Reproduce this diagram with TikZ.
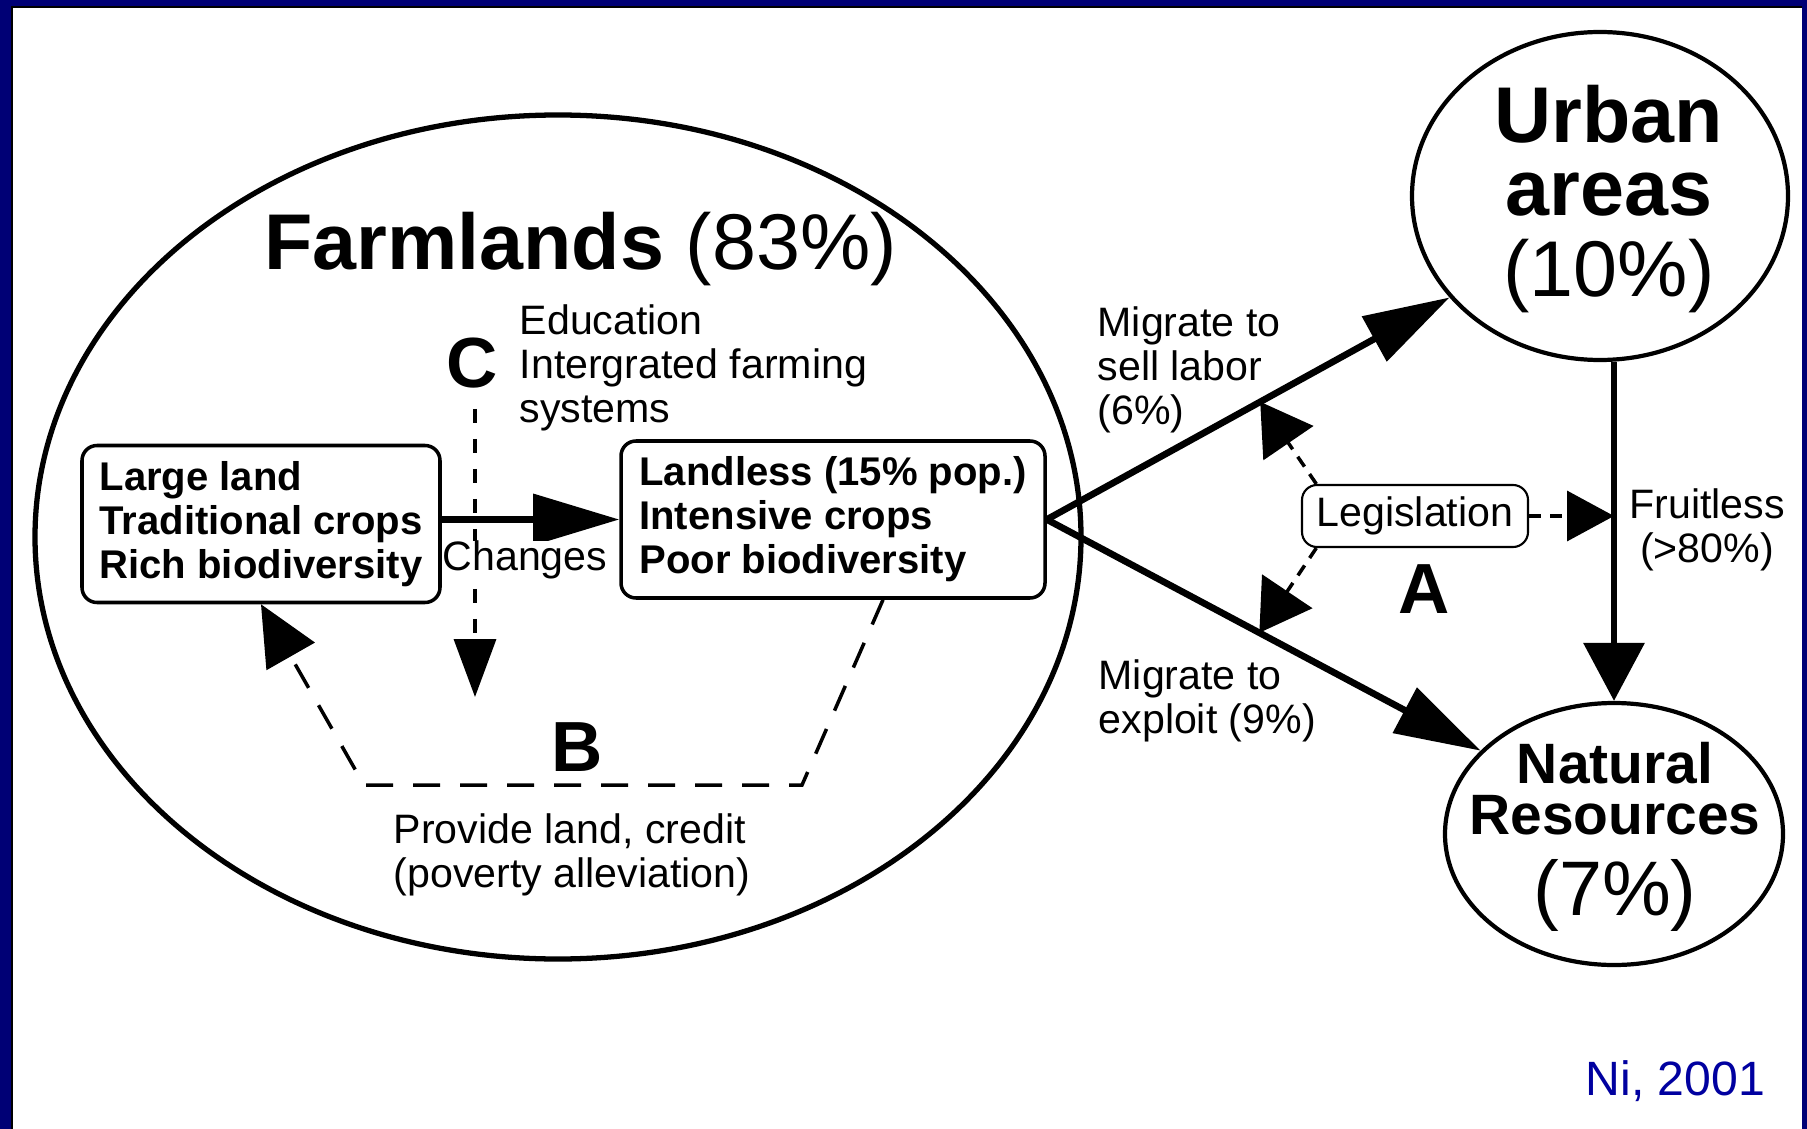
\documentclass[tikz,border=0pt]{standalone}
\usepackage{fontspec}
\setmainfont{Liberation Sans}
\usepackage{tikz}
\usetikzlibrary{positioning,calc,shapes,shapes.geometric,arrows.meta}
\definecolor{frameblue}{RGB}{0,0,117}
\definecolor{citeblue}{RGB}{0,0,160}

\begin{document}
\begin{tikzpicture}[
	landbox/.style={draw, line width=1pt, rounded corners=1.5mm, align=left, inner sep=0pt, minimum height=1.57cm, font=\fontsize{11.4}{12.5}\selectfont\bfseries},
	lbl/.style={inner sep=0pt, align=left, font=\fontsize{11.7}{12.5}\selectfont},
	letter/.style={inner sep=0pt, font=\fontsize{20.2}{20}\selectfont\bfseries},
	flow/.style={line width=1.9pt, -{Triangle[length=8.6mm, width=5mm]}},
	policy/.style={line width=1pt, dash pattern=on 1.2mm off 0.9mm, -{Triangle[length=5mm, width=6mm]}}
	]
	\useasboundingbox (0, 0) rectangle (18.07, -11.29);
	\fill [frameblue] (0, 0) rectangle (18.07, -11.29);
	\fill [white] (0.12, -0.07) rectangle (18.02, -11.29);
	\draw [line width=0.6pt] (0.12, -11.29) -- (0.12, -0.07) -- (18.02, -0.07);

	\node [draw, ellipse, line width=1.5pt, minimum width=10.46cm, minimum height=8.44cm] (Farm) at (5.58, -5.37) {};
	\node [anchor=base, inner sep=0pt, font=\fontsize{22.5}{24}\selectfont] (Title) at (5.805, -2.70) {\textbf{Farmlands} (83\%)};

	\node [landbox, minimum width=3.58cm] (Big) at (2.61, -5.24) {Large land\\Traditional crops\\Rich biodiversity};
	\node [landbox, minimum width=4.24cm] (Less) at (8.33, -5.195) {Landless (15\% pop.)\\Intensive crops\\Poor biodiversity};
	\draw [flow] (Big.east |- Less.west) -- (Less.west);

	\node [letter] (C) at (4.72, -3.63) {C};
	\node [lbl, anchor=west] (Edu) at (5.19, -3.68) {Education\\Intergrated farming\\systems};
	\coordinate (Cend) at (4.75, -6.97);
	\draw [line width=1pt, dash pattern=on 1.4mm off 1.6mm, shorten <=2mm, -{Triangle[length=5.8mm, width=4.2mm]}] (C.south -| Cend) -- (Cend);
	\node [lbl, fill=white] (Chg) at (5.25, -5.60) {Changes};

	\coordinate (B1) at (8.02, -7.85);
	\coordinate (B2) at (3.64, -7.85);
	\draw [line width=1pt, dash pattern=on 2.7mm off 2mm, -{Triangle[length=6mm, width=5.5mm]}] ([xshift=5mm]Less.south) -- (B1) -- (B2) -- (Big.south);
	\node [letter] (B) at (5.77, -7.47) {B};
	\node [lbl, anchor=west] (Prov) at (3.93, -8.55) {Provide land, credit\\(poverty alleviation)};

	\node [draw, ellipse, line width=1.2pt, minimum width=3.76cm, minimum height=3.28cm] (Urban) at (16.00, -1.96) {};
	\node [align=center, inner sep=0pt, font=\fontsize{22.5}{20.5}\selectfont] (UrbanT) at (16.09, -1.995) {\textbf{Urban}\\\textbf{areas}\\[2.8pt](10\%)};
	\node [draw, ellipse, line width=1.2pt, minimum width=3.38cm, minimum height=2.62cm] (Nat) at (16.14, -8.34) {};
	\node [align=center, inner sep=0pt, font=\fontsize{16.2}{14.4}\selectfont\bfseries] (NatT) at (16.15, -8.37) {Natural\\Resources\\[6pt]{\fontsize{22}{22}\selectfont\mdseries(7\%)}};

	\draw [flow] (Less.east) -- (Urban.214);
	\draw [flow] (Less.east) -- (Nat.148);
	\draw [flow, -{Triangle[length=5.8mm, width=6mm]}] (Nat.north |- Urban.south) -- (Nat.north);
	\node [lbl, anchor=west] (Sell) at (10.97, -3.70) {Migrate to\\sell labor\\(6\%)};
	\node [lbl, anchor=west] (Expl) at (10.98, -7.01) {Migrate to\\exploit (9\%)};

	\node [draw, line width=0.6pt, rounded corners=1.5mm, minimum width=2.26cm, minimum height=0.62cm, inner sep=0pt, font=\fontsize{11.7}{12.5}\selectfont] (Leg) at (14.15, -5.16) {Legislation};
	\coordinate (UpHit) at ($(Less.east)!0.53!(Urban.214)$);
	\coordinate (LowHit) at ($(Less.east)!0.49!(Nat.148)$);
	\coordinate (Fmid) at (Nat.north |- Leg.east);
	\draw [policy] (Leg.162) -- (UpHit);
	\draw [policy] (Leg.198) -- (LowHit);
	\draw [policy, -{Triangle[length=4.7mm, width=5mm]}] (Leg.east) -- (Fmid);
	\node [letter] (A) at (14.24, -5.89) {A};
	\node [lbl, align=center] (Fruit) at (17.07, -5.30) {Fruitless\\(>80\%)};

	\node [anchor=base west, inner sep=0pt, text=citeblue, font=\fontsize{13.7}{14}\selectfont] (Cite) at (15.85, -10.95) {Ni, 2001};
\end{tikzpicture}
\end{document}
